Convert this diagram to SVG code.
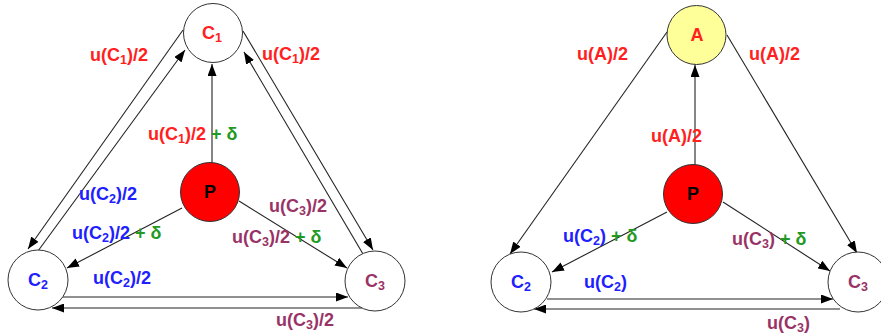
<svg xmlns="http://www.w3.org/2000/svg" width="881" height="335" viewBox="0 0 881 335">
<style>
text{font-family:"Liberation Sans",Arial,sans-serif;font-weight:bold;font-size:18px}
.sub{font-size:12.5px}
.r{fill:#ff2020}.b{fill:#2020ff}.m{fill:#993366}.g{fill:#229922}.k{fill:#000}
.n{stroke:#333;stroke-width:1;fill:#fff}
.c line{stroke:#222;stroke-width:1.1;marker-end:url(#ah)}
</style>
<defs>
<marker id="ah" markerUnits="userSpaceOnUse" markerWidth="12" markerHeight="9" refX="12" refY="4.5" orient="auto">
<path d="M0,0 L12,4.5 L0,9 z" fill="#000"/>
</marker>
</defs>
<rect width="881" height="335" fill="#fff"/>
<g id="connectors" class="c">
<line x1="212" y1="163" x2="212" y2="64"/>
<line x1="183" y1="30" x2="28" y2="249"/>
<line x1="38" y1="251" x2="185" y2="50"/>
<line x1="243" y1="31" x2="373" y2="250"/>
<line x1="363" y1="254" x2="244" y2="52"/>
<line x1="182" y1="208" x2="67" y2="268"/>
<line x1="239" y1="201" x2="347" y2="268"/>
<line x1="62" y1="297" x2="348" y2="297"/>
<line x1="362" y1="308" x2="52" y2="308"/>
<line x1="695" y1="165" x2="695" y2="65"/>
<line x1="667" y1="32" x2="510" y2="254"/>
<line x1="727" y1="35" x2="857" y2="253"/>
<line x1="667" y1="212" x2="552" y2="272"/>
<line x1="723" y1="202" x2="830" y2="271"/>
<line x1="547" y1="299" x2="833" y2="299"/>
<line x1="840" y1="309" x2="534" y2="309"/>
</g>
<g id="C1"><circle class="n" cx="213" cy="33" r="29.5"/><text class="r" x="212" y="39" text-anchor="middle">C<tspan class="sub" dy="3">1</tspan></text></g>
<g id="P1"><circle class="n" cx="210" cy="192" r="29.5" style="fill:#ff0000"/><text class="k" x="210" y="198" text-anchor="middle">P</text></g>
<g id="C2"><circle class="n" cx="38" cy="280" r="30"/><text class="b" x="38" y="286" text-anchor="middle">C<tspan class="sub" dy="3">2</tspan></text></g>
<g id="C3"><circle class="n" cx="375" cy="281" r="30"/><text class="m" x="375" y="287" text-anchor="middle">C<tspan class="sub" dy="3">3</tspan></text></g>
<g id="A"><circle class="n" cx="696.5" cy="35" r="29.5" style="fill:#ffff99"/><text class="r" x="697" y="41" text-anchor="middle">A</text></g>
<g id="P2"><circle class="n" cx="693" cy="194" r="29.5" style="fill:#ff0000"/><text class="k" x="693" y="200" text-anchor="middle">P</text></g>
<g id="C2b"><circle class="n" cx="521" cy="282" r="30"/><text class="b" x="521" y="288" text-anchor="middle">C<tspan class="sub" dy="3">2</tspan></text></g>
<g id="C3b"><circle class="n" cx="858" cy="282" r="30"/><text class="m" x="858" y="288" text-anchor="middle">C<tspan class="sub" dy="3">3</tspan></text></g>
<g id="labels">
<text class="r" x="90" y="61">u(C<tspan class="sub" dy="3">1</tspan><tspan dy="-3">)/2</tspan></text>
<text class="r" x="262" y="60">u(C<tspan class="sub" dy="3">1</tspan><tspan dy="-3">)/2</tspan></text>
<text class="r" x="148" y="140">u(C<tspan class="sub" dy="3">1</tspan><tspan dy="-3">)/2 </tspan><tspan class="g">+ δ</tspan></text>
<text class="b" x="79" y="200">u(C<tspan class="sub" dy="3">2</tspan><tspan dy="-3">)/2</tspan></text>
<text class="b" x="72" y="239">u(C<tspan class="sub" dy="3">2</tspan><tspan dy="-3">)/2 </tspan><tspan class="g">+ δ</tspan></text>
<text class="m" x="269" y="212">u(C<tspan class="sub" dy="3">3</tspan><tspan dy="-3">)/2</tspan></text>
<text class="m" x="232" y="243">u(C<tspan class="sub" dy="3">3</tspan><tspan dy="-3">)/2 </tspan><tspan class="g">+ δ</tspan></text>
<text class="b" x="93" y="284">u(C<tspan class="sub" dy="3">2</tspan><tspan dy="-3">)/2</tspan></text>
<text class="m" x="276" y="326">u(C<tspan class="sub" dy="3">3</tspan><tspan dy="-3">)/2</tspan></text>
<text class="r" x="577" y="60">u(A)/2</text>
<text class="r" x="749" y="60">u(A)/2</text>
<text class="r" x="651" y="142">u(A)/2</text>
<text class="b" x="563" y="242">u(C<tspan class="sub" dy="3">2</tspan><tspan dy="-3">) </tspan><tspan class="g">+ δ</tspan></text>
<text class="m" x="732" y="245">u(C<tspan class="sub" dy="3">3</tspan><tspan dy="-3">) </tspan><tspan class="g">+ δ</tspan></text>
<text class="b" x="584" y="288">u(C<tspan class="sub" dy="3">2</tspan><tspan dy="-3">)</tspan></text>
<text class="m" x="767" y="329">u(C<tspan class="sub" dy="3">3</tspan><tspan dy="-3">)</tspan></text>
</g>
</svg>
